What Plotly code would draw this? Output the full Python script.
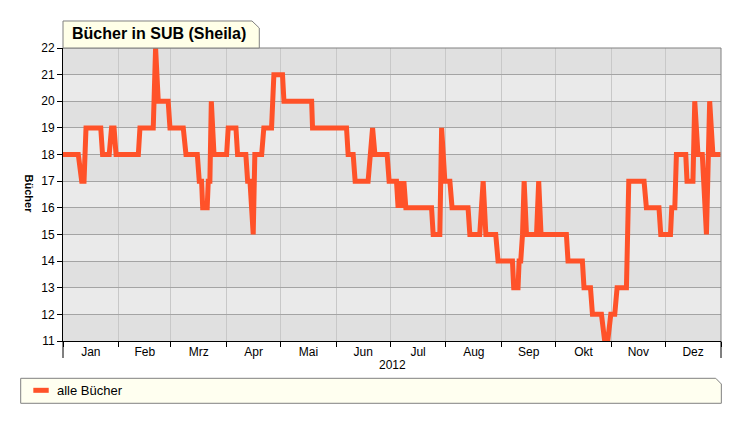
import pandas as pd
import plotly.graph_objects as go

# Days since 1 Jan 2012 and the number of books at that point
days = [0, 8.5, 10.4, 11.7, 12.8, 21.0, 22.0, 25.7, 27.0, 28.4, 29.5, 41.9, 42.8,
        50.2, 51.5, 53.0, 58.5, 59.5, 66.9, 68.4, 74.7, 75.8, 77.1, 77.7, 80.2,
        80.8, 81.7, 82.5, 84.0, 91.0, 91.9, 96.2, 97.1, 101.7, 102.7, 104.0,
        105.8, 106.7, 110.5, 111.7, 116.0, 117.3, 122.1, 122.9, 138.3, 138.8,
        157.7, 158.6, 161.4, 162.5, 169.7, 172.2, 173.5, 180.3, 181.4, 185.5,
        186.4, 187.4, 188.9, 189.6, 190.7, 205.0, 205.9, 209.6, 210.6, 212.4,
        215.2, 216.4, 225.3, 226.3, 231.8, 233.7, 235.2, 240.7, 242.0, 250.0,
        250.7, 253.1, 253.7, 254.6, 255.6, 256.5, 257.8, 263.4, 264.6, 265.9,
        280.0, 280.9, 288.9, 289.8, 293.4, 294.5, 299.5, 301.3, 303.0, 304.7,
        306.9, 308.2, 313.4, 314.7, 323.2, 324.5, 331.5, 332.5, 337.9, 338.6,
        340.3, 341.2, 346.4, 347.1, 350.4, 351.4, 353.2, 355.6, 357.9, 359.7,
        361.5, 365.8]
buecher = [18, 18, 17, 17, 19, 19, 18, 18, 19, 19, 18, 18, 19,
           19, 22, 20, 20, 19, 19, 18, 18, 17, 17, 16, 16,
           17, 17, 20, 18, 18, 19, 19, 18, 18, 17, 17,
           15, 18, 18, 19, 19, 21, 21, 20, 20, 19,
           19, 18, 18, 17, 17, 19, 18, 18, 17, 17,
           16, 17, 16, 17, 16, 16, 15, 15, 19, 17,
           17, 16, 16, 15, 15, 17, 15, 15, 14, 14,
           13, 13, 14, 14, 15, 17, 15, 15, 17, 15,
           15, 14, 14, 13, 13, 12, 12, 11, 11, 12,
           12, 13, 13, 17, 17, 16, 16, 15, 15, 16,
           16, 18, 18, 17, 17, 20, 18, 18, 15, 20,
           18, 18]

monate = ['Jan', 'Feb', 'Mrz', 'Apr', 'Mai', 'Jun',
          'Jul', 'Aug', 'Sep', 'Okt', 'Nov', 'Dez']
y_ticks = list(range(11, 23))

x = pd.Timestamp('2012-01-01') + pd.to_timedelta(days, unit='D')
month_starts = pd.date_range('2012-01-01', '2013-01-01', freq='MS')
month_mids = [s + (e - s) / 2 for s, e in zip(month_starts[:-1], month_starts[1:])]

FONT = 'Liberation Sans, Arial, sans-serif'
ORANGE = '#ff5229'

fig = go.Figure()
fig.add_trace(go.Scatter(x=x, y=buecher, mode='lines', name='alle Bücher',
                         line=dict(color=ORANGE, width=5), showlegend=False,
                         hoverinfo='skip'))

shapes = []
# alternating bands behind the grid
for v in y_ticks[:-1]:
    if (v - 11) % 2 == 0:
        shapes.append(dict(type='rect', xref='paper', yref='y', x0=0, x1=1,
                           y0=v, y1=v + 1, fillcolor='#e0e0e0', line_width=0,
                           layer='below'))
# top / right frame
shapes.append(dict(type='line', xref='paper', yref='paper', x0=0, x1=1, y0=1, y1=1,
                   line=dict(color='#808080', width=1)))
shapes.append(dict(type='line', xref='paper', yref='paper', x0=1, x1=1, y0=0, y1=1,
                   line=dict(color='#808080', width=1)))
# long ticks at the year edges
for xe in [0, 1]:
    shapes.append(dict(type='line', xref='paper', yref='paper', x0=xe, x1=xe,
                       y0=0, y1=-0.058, line=dict(color='black', width=1)))
# title box with folded corner
shapes.append(dict(type='path', xref='paper', yref='paper',
                   path='M 0,1 L 0,1.0922 L 0.2872,1.0922 L 0.2983,1.0683 L 0.2983,1 Z',
                   fillcolor='#ffffe8', line=dict(color='#808080', width=1)))
# legend box with folded corner
shapes.append(dict(type='path', xref='paper', yref='paper',
                   path='M -0.0643,-0.1273 L 0.992,-0.1273 L 1.0005,-0.1468 '
                        'L 1.0005,-0.2126 L -0.0643,-0.2126 Z',
                   fillcolor='#fffff0', line=dict(color='#808080', width=1)))
shapes.append(dict(type='line', xref='paper', yref='paper', x0=-0.0451, x1=-0.0217,
                   y0=-0.1683, y1=-0.1683, line=dict(color=ORANGE, width=5)))

annotations = [
    dict(text='<b>Bücher in SUB (Sheila)</b>', xref='paper', yref='paper',
         x=0.0106, y=1.0495, xanchor='left', yanchor='middle', showarrow=False,
         font=dict(size=16, color='black', family=FONT)),
    dict(text='<b>Bücher</b>', xref='paper', yref='paper', x=-0.0502, y=0.5,
         textangle=90, xanchor='center', yanchor='middle', showarrow=False,
         font=dict(size=11, color='black', family=FONT)),
    dict(text='2012', xref='paper', yref='paper', x=0.5, y=-0.0819,
         xanchor='center', yanchor='middle', showarrow=False,
         font=dict(size=12, color='black', family=FONT)),
    dict(text='alle Bücher', xref='paper', yref='paper', x=-0.0122, y=-0.1683,
         xanchor='left', yanchor='middle', showarrow=False,
         font=dict(size=13, color='black', family=FONT)),
]

# the page puts the figure 8px in from the top left, so the figure is
# kept 8px smaller to fit the 741x423 window
fig.update_layout(
    width=733, height=415,
    margin=dict(l=55, r=20, t=40, b=82),
    paper_bgcolor='white', plot_bgcolor='#eaeaea',
    font=dict(family=FONT, size=12, color='black'),
    shapes=shapes, annotations=annotations,
)
fig.update_xaxes(
    type='date', range=['2012-01-01', '2013-01-01'],
    tickmode='array', tickvals=month_mids, ticktext=monate, ticks='',
    showgrid=False, showline=True, linecolor='black', linewidth=1,
    tickfont=dict(size=12, color='black'),
    minor=dict(tickmode='array', tickvals=month_starts, ticks='outside',
               ticklen=5, tickcolor='black', showgrid=True,
               gridcolor='#c8c8c8', gridwidth=1),
    zeroline=False,
)
fig.update_yaxes(
    range=[11, 22], tickmode='array', tickvals=y_ticks, ticks='outside',
    ticklen=5, tickcolor='black', showline=True, linecolor='black', linewidth=1,
    showgrid=True, gridcolor='#a4a4a4', gridwidth=1, zeroline=False,
    tickfont=dict(size=12, color='black'),
)

fig.write_html("out.html")
